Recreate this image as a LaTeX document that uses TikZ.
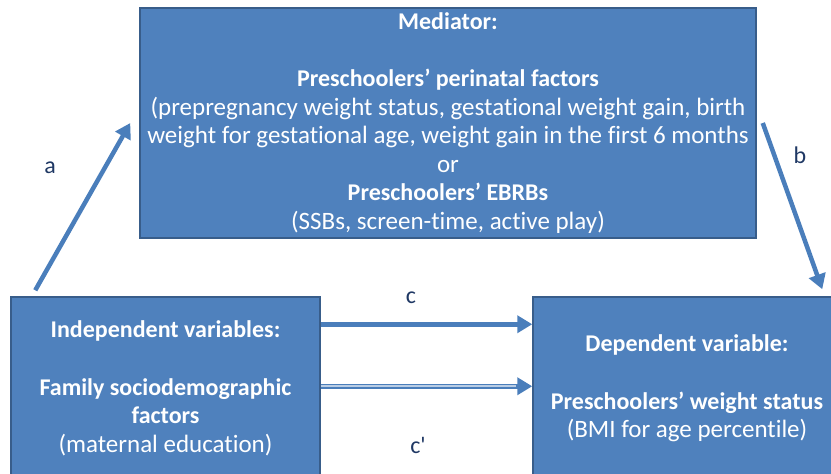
\documentclass[tikz,border=0pt]{standalone}
\usepackage{fontspec}
\setmainfont{Carlito}[Ligatures={NoCommon}]
\usetikzlibrary{arrows.meta}
\definecolor{boxfill}{HTML}{4F81BD}
\definecolor{boxline}{HTML}{385D8A}
\definecolor{arrowblue}{HTML}{4A7EBB}
\definecolor{lightline}{HTML}{B9CDE5}
\definecolor{labelblue}{HTML}{1F3864}
\newcommand{\bt}[1]{{\fontsize{24}{28.6}\selectfont\bfseries #1}}
\tikzset{
  box/.style={draw=boxline, line width=1.5pt, fill=boxfill, text=white, align=center, inner sep=0pt,
    font=\fontsize{25}{28.6}\selectfont},
  conn/.style={draw=arrowblue, line width=4.5pt, -{Triangle[length=15pt,width=17pt]}},
  lbl/.style={text=labelblue, font=\fontsize{24}{28}\selectfont, inner sep=0pt}
}
\begin{document}
\begin{tikzpicture}[x=1pt, y=-1pt]
\path[use as bounding box, clip] (0,0) rectangle (831,474);
\node[box, minimum width=616pt, minimum height=230pt] (top) at (448,123)
  {\bt{Mediator:}\\[28.6pt]
   \bt{Preschoolers’ perinatal factors}\\
   (prepregnancy weight status, gestational weight gain, birth\\
   weight for gestational age, weight gain in the first 6 months\\
   or\\
   \bt{Preschoolers’ EBRBs}\\
   (SSBs, screen-time, active play)};
\node[box, minimum width=309pt, minimum height=183pt] (left) at (165.5,388.5)
  {\bt{Independent variables:}\\[28.6pt]
   \bt{Family sociodemographic}\\
   \bt{factors}\\
   (maternal education)};
\node[box, minimum width=308pt, minimum height=183pt] (right) at (687,388.5)
  {\bt{Dependent variable:}\\[28.6pt]
   \bt{Preschoolers’ weight status}\\
   (BMI for age percentile)};
\draw[conn] ([shift={(25,-6)}]left.north west) -- ([shift={(-9,0)}]top.west);
\draw[conn] ([shift={(6,0)}]top.east) -- ([shift={(290,-7)}]right.north west);
\draw[conn] ([shift={(0,28)}]left.north east) -- ([shift={(0,28)}]right.north west);
\draw[conn] ([shift={(0,90)}]left.north east) -- ([shift={(0,90)}]right.north west);
\draw[draw=lightline, line width=1.8pt] ([shift={(0,90)}]left.north east) -- ([shift={(-16,90)}]right.north west);
\node[lbl] (la) at (50,168) {a};
\node[lbl] (lb) at (800,155) {b};
\node[lbl] (lc) at (411,298) {c};
\node[lbl] (lcp) at (418,445) {c\textquotesingle};
\end{tikzpicture}
\end{document}
